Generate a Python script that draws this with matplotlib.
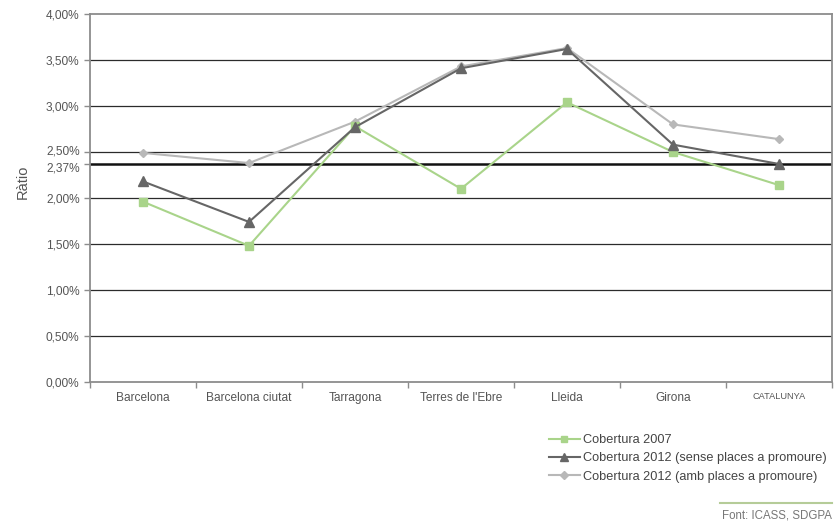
import matplotlib
matplotlib.use("Agg")
import matplotlib.pyplot as plt
from matplotlib.lines import Line2D
from matplotlib.transforms import ScaledTranslation

plt.rcParams['font.family'] = ['Liberation Sans', 'DejaVu Sans']

categories = ["Barcelona", "Barcelona ciutat", "Tarragona", "Terres de l'Ebre",
              "Lleida", "Girona", "CATALUNYA"]
cob_2007 = [1.96, 1.48, 2.78, 2.10, 3.04, 2.50, 2.14]
cob_2012_sense = [2.18, 1.74, 2.77, 3.41, 3.62, 2.58, 2.37]
cob_2012_amb = [2.49, 2.38, 2.83, 3.43, 3.63, 2.80, 2.64]
ref_value = 2.37
yticks = [0.0, 0.5, 1.0, 1.5, 2.0, 2.5, 3.0, 3.5, 4.0]

labels = ["Cobertura 2007",
          "Cobertura 2012 (sense places a promoure)",
          "Cobertura 2012 (amb places a promoure)"]
source = "Font: ICASS, SDGPA"

GREEN = "#a9d48a"
DARK = "#666666"
LIGHT = "#b8b8b8"
TXT = "#555555"
SPINE = "#8c8c8c"

fig = plt.figure(figsize=(8.34, 5.24), dpi=100)
ax = fig.add_axes([90/834, 1-382/524, 742/834, 368/524])

x = list(range(len(categories)))

for v in yticks[1:-1]:
    ax.axhline(v, color="#2b2b2b", lw=0.9, zorder=1)
ax.axhline(ref_value, color="#111111", lw=1.8, zorder=1)

ax.plot(x, cob_2007, color=GREEN, lw=1.5, marker="s", ms=6, zorder=3, label=labels[0])
ax.plot(x, cob_2012_sense, color=DARK, lw=1.5, marker="^", ms=6.5, zorder=4, label=labels[1])
ax.plot(x, cob_2012_amb, color=LIGHT, lw=1.5, marker="D", ms=4.5, zorder=2, label=labels[2])

ax.set_xlim(-0.5, len(categories) - 0.5)
ax.set_ylim(0, 4.0)

ticks = yticks + [ref_value]
ax.set_yticks(ticks)
ax.set_yticklabels([f"{t:.2f}%".replace(".", ",") for t in ticks])
ax.tick_params(axis="y", colors=SPINE, labelcolor=TXT, labelsize=8.6, length=4, width=1)
# keep the two close labels (2,50% and 2,37%) from touching
for lab in ax.get_yticklabels():
    txt = lab.get_text()
    if txt == "2,37%":
        lab.set_transform(lab.get_transform() + ScaledTranslation(0, -3/100, fig.dpi_scale_trans))
    elif txt == "2,50%":
        lab.set_transform(lab.get_transform() + ScaledTranslation(0, 2/100, fig.dpi_scale_trans))

ax.set_xticks(x)
ax.set_xticklabels(categories)
ax.tick_params(axis="x", length=0, labelsize=8.6, labelcolor=TXT, pad=7)
ax.get_xticklabels()[-1].set_fontsize(6.6)
ax.set_xticks([i + 0.5 for i in range(-1, len(categories))], minor=True)
ax.tick_params(axis="x", which="minor", length=4, width=1, color=SPINE)

for s in ax.spines.values():
    s.set_color(SPINE)
    s.set_linewidth(1.3)

ax.set_ylabel("Ràtio", fontsize=10.5, color=TXT)
ax.yaxis.set_label_coords(-0.081, 0.545)

handles = [Line2D([0], [0], color=GREEN, lw=1.5, marker="s", ms=5),
           Line2D([0], [0], color=DARK, lw=1.5, marker="^", ms=5.5),
           Line2D([0], [0], color=LIGHT, lw=1.5, marker="D", ms=4)]
leg = fig.legend(handles, labels, loc="upper left", bbox_to_anchor=(549/834, 1-434/524),
                 frameon=False, fontsize=9.2, handlelength=2.4, handletextpad=0.25,
                 labelspacing=0.5, borderaxespad=0, borderpad=0)
for t in leg.get_texts():
    t.set_color("#444444")

fig.add_artist(Line2D([720/834, 832/834], [1-503/524, 1-503/524],
                      color="#b5cc98", lw=1.5, transform=fig.transFigure))
fig.text(832/834, 1-516/524, source, ha="right", va="center", fontsize=8.3, color="#777777")

fig.savefig("out.png", dpi=100)
